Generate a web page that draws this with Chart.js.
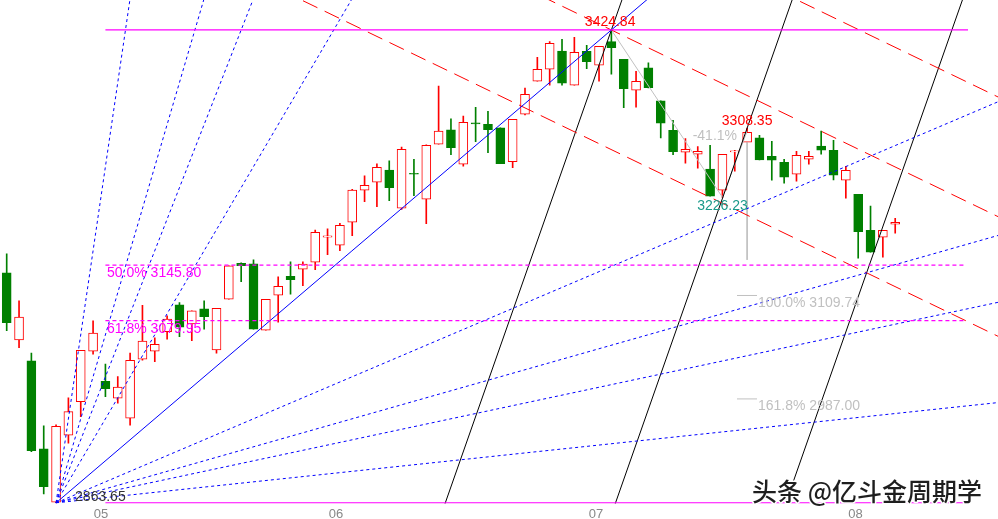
<!DOCTYPE html>
<html>
<head>
<meta charset="utf-8">
<title>K-line</title>
<script src="https://cdn.jsdelivr.net/npm/chart.js@4.4.1/dist/chart.umd.min.js"></script>
<style>
  html, body { margin: 0; padding: 0; background: #fff; }
  #wrap { width: 998px; height: 519px; position: relative; }
</style>
</head>
<body>
<div id="wrap"><canvas id="kline"></canvas></div>
<script>
// daily bars (index 0..72)
const opens = [3136.5, 3057.0, 3032.1, 2927.7, 2864.5, 2944.0, 2983.8, 3043.6, 3008.0, 2987.9,
  2964.1, 3034.1, 3043.6, 3066.9, 3098.6, 3076.0, 3093.8, 3045.2, 3105.3, 3148.0,
  3147.2, 3068.5, 3110.1, 3132.6, 3140.9, 3149.2, 3178.9, 3169.4, 3196.7, 3234.7,
  3244.1, 3258.7, 3213.3, 3254.8, 3224.0, 3289.2, 3306.2, 3265.5, 3314.5, 3313.0,
  3308.6, 3268.6, 3324.8, 3364.0, 3378.2, 3399.9, 3359.2, 3399.6, 3383.0, 3411.0,
  3390.1, 3353.3, 3379.8, 3340.6, 3305.8, 3279.7, 3277.4, 3259.6, 3234.7, 3280.1,
  3291.6, 3296.7, 3275.0, 3267.9, 3253.6, 3271.4, 3286.9, 3282.1, 3246.5, 3229.9,
  3187.2, 3178.9, 3194.3];
const highs = [3159.1, 3103.3, 3041.3, 2955.0, 2956.2, 2988.2, 3044.8, 3079.6, 3028.2, 3013.5,
  3041.3, 3098.2, 3059.4, 3085.5, 3101.3, 3091.4, 3103.3, 3094.6, 3144.8, 3148.4,
  3152.0, 3105.3, 3131.8, 3149.6, 3149.6, 3187.5, 3188.7, 3195.5, 3235.8, 3251.6,
  3265.9, 3269.4, 3286.0, 3271.4, 3288.4, 3358.1, 3319.3, 3322.5, 3333.1, 3328.4,
  3308.6, 3318.9, 3356.0, 3392.5, 3411.0, 3413.8, 3416.2, 3406.7, 3405.5, 3424.84,
  3390.1, 3375.8, 3385.7, 3340.6, 3317.7, 3295.9, 3286.4, 3288.0, 3277.4, 3282.1,
  3308.35, 3299.9, 3292.8, 3271.4, 3280.9, 3280.9, 3304.7, 3294.0, 3263.1, 3229.9,
  3215.7, 3187.2, 3201.4];
const lows = [3068.1, 3047.9, 2924.5, 2874.3, 2863.65, 2934.5, 2966.0, 3040.1, 2989.8, 2981.9,
  2955.8, 3033.0, 3031.3, 3057.9, 3061.0, 3056.2, 3069.7, 3041.3, 3105.3, 3126.2,
  3069.7, 3068.5, 3078.0, 3111.3, 3121.5, 3140.4, 3158.2, 3163.0, 3180.8, 3221.1,
  3215.2, 3222.3, 3212.0, 3228.2, 3195.0, 3289.2, 3276.9, 3263.1, 3292.3, 3279.3,
  3266.2, 3261.5, 3324.0, 3364.0, 3359.2, 3359.2, 3359.2, 3378.9, 3364.0, 3372.3,
  3332.7, 3333.1, 3356.0, 3296.7, 3276.9, 3266.7, 3260.8, 3227.5, 3226.23, 3257.2,
  3291.6, 3270.6, 3246.5, 3243.0, 3245.3, 3265.5, 3277.4, 3246.9, 3225.2, 3154.0,
  3161.1, 3155.2, 3183.6];
const closes = [3077.6, 3084.0, 2925.7, 2883.0, 2954.6, 2972.0, 3044.8, 3065.0, 2999.3, 3000.9,
  3032.9, 3055.5, 3051.9, 3081.6, 3072.1, 3091.4, 3084.7, 3094.6, 3144.8, 3145.2,
  3069.7, 3105.3, 3120.7, 3128.6, 3146.9, 3184.8, 3180.4, 3193.1, 3234.7, 3240.6,
  3261.9, 3237.7, 3283.3, 3253.6, 3288.0, 3304.7, 3285.2, 3315.3, 3313.3, 3306.6,
  3266.2, 3318.9, 3348.6, 3378.2, 3409.1, 3361.6, 3398.4, 3387.2, 3405.5, 3403.8,
  3355.2, 3364.0, 3356.4, 3314.1, 3280.5, 3283.3, 3280.9, 3227.5, 3277.4, 3281.3,
  3303.5, 3270.6, 3270.3, 3250.1, 3276.2, 3275.0, 3282.1, 3252.5, 3258.4, 3185.5,
  3161.1, 3187.2, 3196.7];

// month ticks, positioned on the bar index axis
const monthPos = [7.64, 26.69, 47.75, 68.78];
const monthLabels = ['05', '06', '07', '08'];

// turning points
const bottomPt = { x: 4, y: 2863.65 };
const peakPt = { x: 49, y: 3424.84 };
const lowPt = { x: 58, y: 3226.23 };
const highPt = { x: 60, y: 3308.35 };

// retracement / extension levels
const fibLevels = [3145.80, 3079.95];
const fibTexts = ['50.0% 3145.80', '61.8% 3079.95'];
const extLevels = [3109.74, 2987.00];
const extTexts = ['100.0% 3109.74', '161.8% 2987.00'];

// gann fan from the bottom, 1x1 runs through the peak
const fanRatios = [8, 4, 3, 2, 1, 1 / 2, 1 / 3, 1 / 4, 1 / 8];

// falling red channel (price per bar) and its offsets from the peak line
const channelSlope = -7.07;
const channelShifts = [-142, 0, 142];

// rising black lines (price per bar) and their anchors
const blackSlope = 41.7;
const blackAnchors = [[49, 3424.84], [60, 3308.35], [73.8, 3308.35]];

const RED = '#ff0000';
const GREEN = '#008000';
const BLUE = '#0000ff';
const MAGENTA = '#ff00ff';
const GREY = '#c0c0c0';

const idx = opens.map((_, i) => i);
const up = idx.map(i => closes[i] >= opens[i]);

// straight line through (x0, y0) with a slope, from xa to xb
function ray(x0, y0, slope, xa, xb) {
  return [{ x: xa, y: y0 + slope * (xa - x0) }, { x: xb, y: y0 + slope * (xb - x0) }];
}

function seg(data, color, dash, width) {
  return {
    type: 'line',
    data: data,
    borderColor: color,
    borderWidth: width || 1,
    borderDash: dash || [],
    pointRadius: 0,
    fill: false,
    tension: 0,
    order: 0
  };
}

const lineSets = [];

// magenta levels
lineSets.push(seg([{ x: 8, y: peakPt.y }, { x: 77.9, y: peakPt.y }], MAGENTA, [], 1.3));
lineSets.push(seg([{ x: 8, y: bottomPt.y }, { x: 77.9, y: bottomPt.y }], MAGENTA, [], 1.3));
fibLevels.forEach(v => lineSets.push(seg([{ x: 8, y: v }, { x: 77.7, y: v }], MAGENTA, [4, 3], 1.2)));

// gann fan
const oneByOne = (peakPt.y - bottomPt.y) / (peakPt.x - bottomPt.x);
fanRatios.forEach(r => {
  lineSets.push(seg(ray(bottomPt.x, bottomPt.y, oneByOne * r, bottomPt.x, 84), BLUE, r === 1 ? [] : [3, 3]));
});

// red channel
channelShifts.forEach(s => {
  lineSets.push(seg(ray(peakPt.x, peakPt.y + s, channelSlope, 10, 84), RED, [16, 8]));
});

// black lines
blackAnchors.forEach(a => {
  lineSets.push(seg(ray(a[0], a[1], blackSlope, 30, 84), '#000000'));
});

// swing measure in grey
lineSets.push(seg([peakPt, lowPt, { x: highPt.x, y: 3305 }], GREY));
lineSets.push(seg([{ x: highPt.x, y: 3291.6 }, { x: highPt.x, y: 3152 }], GREY));
extLevels.forEach(v => lineSets.push(seg([{ x: 59.18, y: v }, { x: 60.8, y: v }], GREY)));

// text notes
const notes = [
  { text: '3424.84', x: 48.9, y: peakPt.y, dy: -8, color: RED, align: 'center' },
  { text: '2863.65', x: 5.54, y: bottomPt.y, dy: -5.5, color: '#333333', align: 'left' },
  { text: '3308.35', x: 60, y: highPt.y, dy: -7, color: RED, align: 'center' },
  { text: '3226.23', x: 58, y: lowPt.y, dy: 9, color: '#1a9a8a', align: 'center' },
  { text: '-41.1%', x: 59.18, y: highPt.y, dy: 8, color: GREY, align: 'right' },
  { text: fibTexts[0], x: 8.13, y: fibLevels[0], dy: 8, color: MAGENTA, align: 'left' },
  { text: fibTexts[1], x: 8.13, y: fibLevels[1], dy: 8.5, color: MAGENTA, align: 'left' },
  { text: extTexts[0], x: 60.88, y: extLevels[0], dy: 7.5, color: GREY, align: 'left' },
  { text: extTexts[1], x: 60.88, y: extLevels[1], dy: 7.7, color: GREY, align: 'left' }
];

const annotate = {
  id: 'annotate',
  afterDatasetsDraw(chart) {
    const { ctx, chartArea, scales: { x, y } } = chart;
    ctx.save();
    ctx.font = '14px "Liberation Sans", Arial, sans-serif';
    ctx.textBaseline = 'middle';
    notes.forEach(n => {
      ctx.fillStyle = n.color;
      ctx.textAlign = n.align;
      ctx.fillText(n.text, x.getPixelForValue(n.x), y.getPixelForValue(n.y) + n.dy);
    });

    // watermark
    ctx.font = '500 25px "Noto Sans CJK SC", sans-serif';
    ctx.textAlign = 'center';
    ctx.lineJoin = 'round';
    ctx.lineWidth = 3;
    ctx.strokeStyle = '#ffffff';
    const wx = chartArea.right - 131, wy = chartArea.bottom - 12;
    ctx.strokeText('头条 @亿斗金周期学', wx, wy);
    ctx.fillStyle = '#1e1e1e';
    ctx.fillText('头条 @亿斗金周期学', wx, wy);
    ctx.restore();
  }
};

new Chart(document.getElementById('kline'), {
  type: 'bar',
  data: {
    datasets: [
      {
        label: 'wick',
        data: idx.map(i => ({ x: i, y: [lows[i], highs[i]] })),
        backgroundColor: idx.map(i => up[i] ? RED : GREEN),
        barThickness: 1,
        grouped: false,
        order: 2
      },
      {
        label: 'body',
        data: idx.map(i => ({ x: i, y: [opens[i], closes[i]] })),
        backgroundColor: idx.map(i => up[i] ? '#ffffff' : GREEN),
        borderColor: idx.map(i => up[i] ? RED : GREEN),
        borderWidth: 1,
        borderSkipped: false,
        barThickness: 9,
        minBarLength: 1,
        grouped: false,
        order: 1
      },
      ...lineSets
    ]
  },
  options: {
    responsive: true,
    maintainAspectRatio: false,
    animation: false,
    events: [],
    // axis labels sit low, close to the bottom edge
    layout: { padding: { top: 0, left: 0, right: 0, bottom: -6 } },
    plugins: {
      legend: { display: false },
      tooltip: { enabled: false }
    },
    scales: {
      x: {
        type: 'linear',
        min: -0.543,
        max: 80.33,
        offset: false,
        grid: { display: false, drawTicks: false },
        border: { display: false },
        afterBuildTicks: axis => { axis.ticks = monthPos.map(v => ({ value: v })); },
        ticks: {
          autoSkip: false,
          maxRotation: 0,
          padding: 5.6,
          color: '#888888',
          font: { family: '"Liberation Sans", Arial, sans-serif', size: 13, lineHeight: 0.8 },
          callback: (v, i) => monthLabels[i]
        }
      },
      y: {
        display: false,
        min: 2863.0,
        max: 3460.4
      }
    }
  },
  plugins: [annotate]
});
</script>
</body>
</html>
